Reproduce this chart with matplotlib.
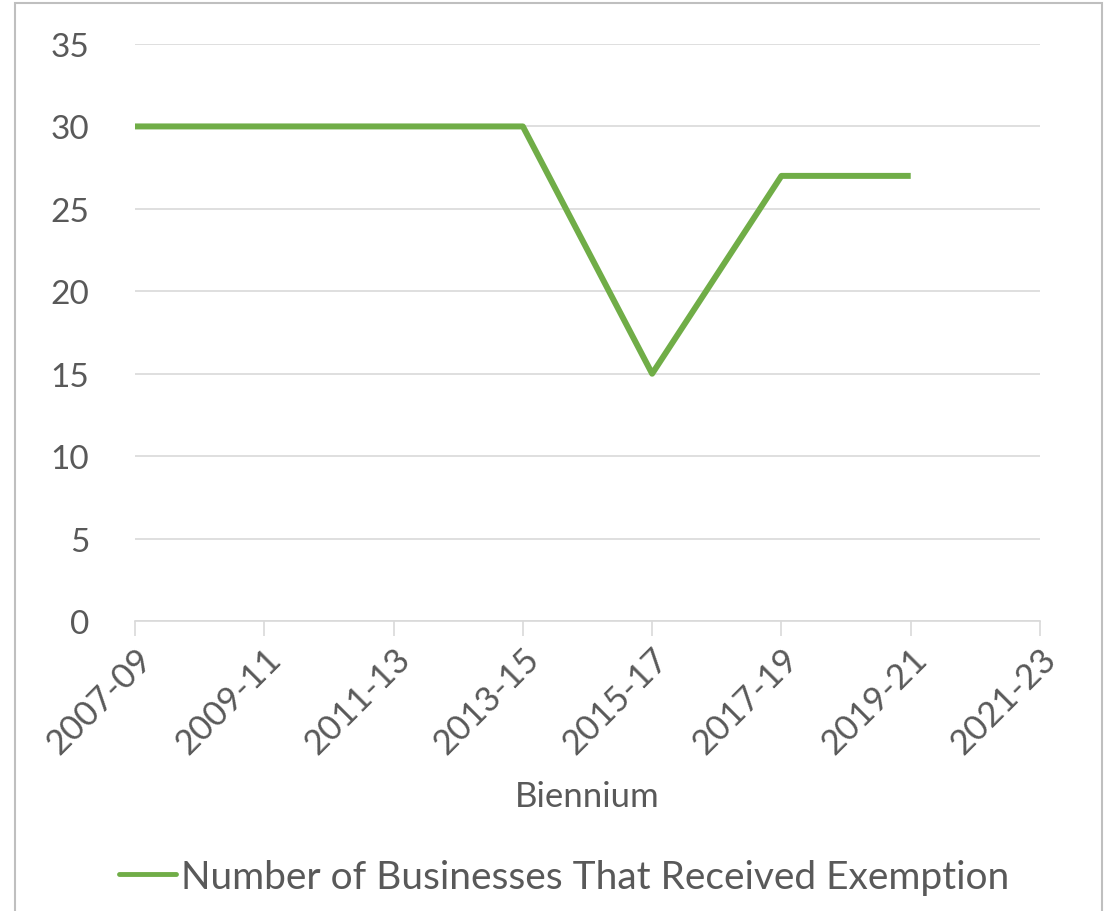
import numpy as np
import matplotlib.pyplot as plt
from matplotlib.patches import Rectangle

# biennium data
bienniums = ['2007-09', '2009-11', '2011-13', '2013-15', '2015-17',
             '2017-19', '2019-21', '2021-23']
businesses = [30, 30, 30, 30, 15, 27, 27, np.nan]
yticks = [0, 5, 10, 15, 20, 25, 30, 35]

plt.rcParams['font.family'] = ['Lato', 'DejaVu Sans']
txt = '#595959'
grid = '#D9D9D9'
green = '#70AD47'

fig = plt.figure(figsize=(11.09, 9.12), dpi=100)
ax = fig.add_axes([135/1109, 1-622/912, (1040-135)/1109, (622-45)/912])

x = np.arange(len(bienniums))
ax.plot(x, businesses, color=green, lw=4.3, solid_capstyle='butt',
        label='Number of Businesses That Received Exemption')

ax.set_xlim(0, len(bienniums)-1)
ax.set_ylim(0, 35)
ax.set_yticks(yticks)
ax.set_yticklabels([str(v) for v in yticks], fontsize=24, color=txt)
ax.set_xticks(x)
ax.set_xticklabels(bienniums, rotation=45, ha='right', rotation_mode='anchor',
                   fontsize=25, color=txt)
ax.tick_params(axis='y', length=0, pad=33)
ax.tick_params(axis='x', length=11, width=1.2, color=grid, pad=4)
ax.grid(axis='y', color=grid, lw=1.2)
ax.set_axisbelow(True)
for s in ['top', 'right', 'left']:
    ax.spines[s].set_visible(False)
ax.spines['bottom'].set_color(grid)
ax.spines['bottom'].set_linewidth(1.2)

ax.set_xlabel('Biennium', fontsize=25, color=txt, va='center')
ax.xaxis.set_label_coords(0.5, (622-797)/577)

leg = fig.legend(loc='center', bbox_to_anchor=(564/1109, 1-878/912), frameon=False,
                 fontsize=28, handlelength=1.47, handletextpad=0.13, borderpad=0)
for t in leg.get_texts():
    t.set_color(txt)
for h in leg.get_lines():
    h.set_linewidth(3.5)
    h.set_solid_capstyle('round')

# chart area border
fig.patches.append(Rectangle((15/1109, -0.05), (1102-15)/1109, 1.05-4/912,
                             transform=fig.transFigure, fill=False,
                             edgecolor='#BFBFBF', lw=1.5))

fig.savefig('out.png', dpi=100)
